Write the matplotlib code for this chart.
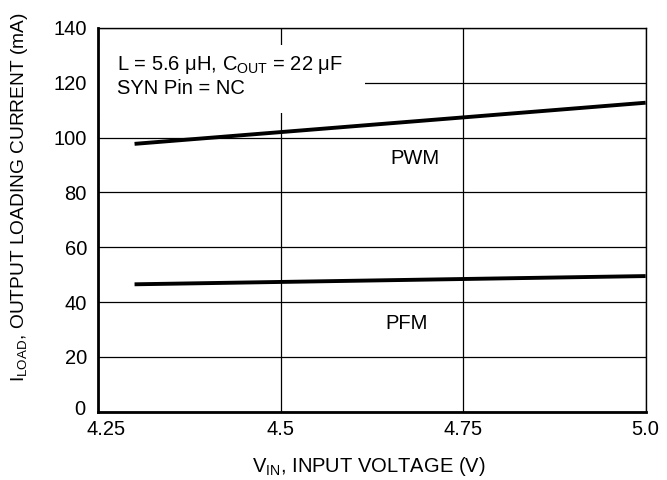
import matplotlib.pyplot as plt
import matplotlib.transforms as mtransforms
from matplotlib.patches import Rectangle

plt.rcParams['font.family'] = ['Liberation Sans', 'DejaVu Sans']

# Data
vin = [4.3, 5.0]
pwm = [97.7, 112.7]
pfm = [46.5, 49.5]

xticks = [4.25, 4.5, 4.75, 5.0]
xlabels = ["4.25", "4.5", "4.75", "5.0"]
yticks = [0, 20, 40, 60, 80, 100, 120, 140]

fig = plt.figure(figsize=(6.67, 4.8), dpi=100)
ax = fig.add_axes([0.147, 0.142, 0.821, 0.8])
ax.set_axisbelow(True)

ax.plot(vin, pwm, color="black", lw=2.8, solid_capstyle="butt", zorder=3)
ax.plot(vin, pfm, color="black", lw=2.8, solid_capstyle="butt", zorder=3)

ax.set_xlim(4.25, 5.0)
ax.set_ylim(0, 140)
ax.set_xticks(xticks)
ax.set_xticklabels(xlabels)
ax.set_yticks(yticks)
ax.grid(True, color="black", lw=0.9)
ax.tick_params(length=0, labelsize=14.5)
ax.tick_params(axis="x", pad=6)
ax.tick_params(axis="y", pad=8)

# nudge first x label right and zero label up, like the original
first = ax.get_xticklabels()[0]
first.set_transform(first.get_transform() + mtransforms.ScaledTranslation(8 / 100, 0, fig.dpi_scale_trans))
zero = ax.get_yticklabels()[0]
zero.set_transform(zero.get_transform() + mtransforms.ScaledTranslation(-2 / 100, 4 / 100, fig.dpi_scale_trans))

for side in ["left", "bottom"]:
    ax.spines[side].set_linewidth(2)
for side in ["top", "right"]:
    ax.spines[side].set_linewidth(1)

ax.text(4.684, 92.3, "PWM", fontsize=14.5, ha="center", va="center")
ax.text(4.673, 32.1, "PFM", fontsize=14.5, ha="center", va="center")

# white box behind the note
ax.add_patch(Rectangle((0.002, 0.779), 0.485, 0.177, transform=ax.transAxes,
                       facecolor="white", edgecolor="none", zorder=1.5))
ax.text(4.276, 122.3, "L = 5.6 \u03bcH, C$_{\\mathregular{OUT}}$ = 22 \u03bcF\nSYN Pin = NC",
        fontsize=14.5, ha="left", va="center", linespacing=1.2, zorder=4)

ax.set_xlabel("V$_{\\mathregular{IN}}$, INPUT VOLTAGE (V)", fontsize=14.5, va="top")
ax.xaxis.set_label_coords(0.495, -0.112)
ax.set_ylabel("I$_{\\mathregular{LOAD}}$, OUTPUT LOADING CURRENT (mA)", fontsize=13.8)
ax.yaxis.set_label_coords(-0.125, 0.56)

fig.savefig("out.png", dpi=100)
